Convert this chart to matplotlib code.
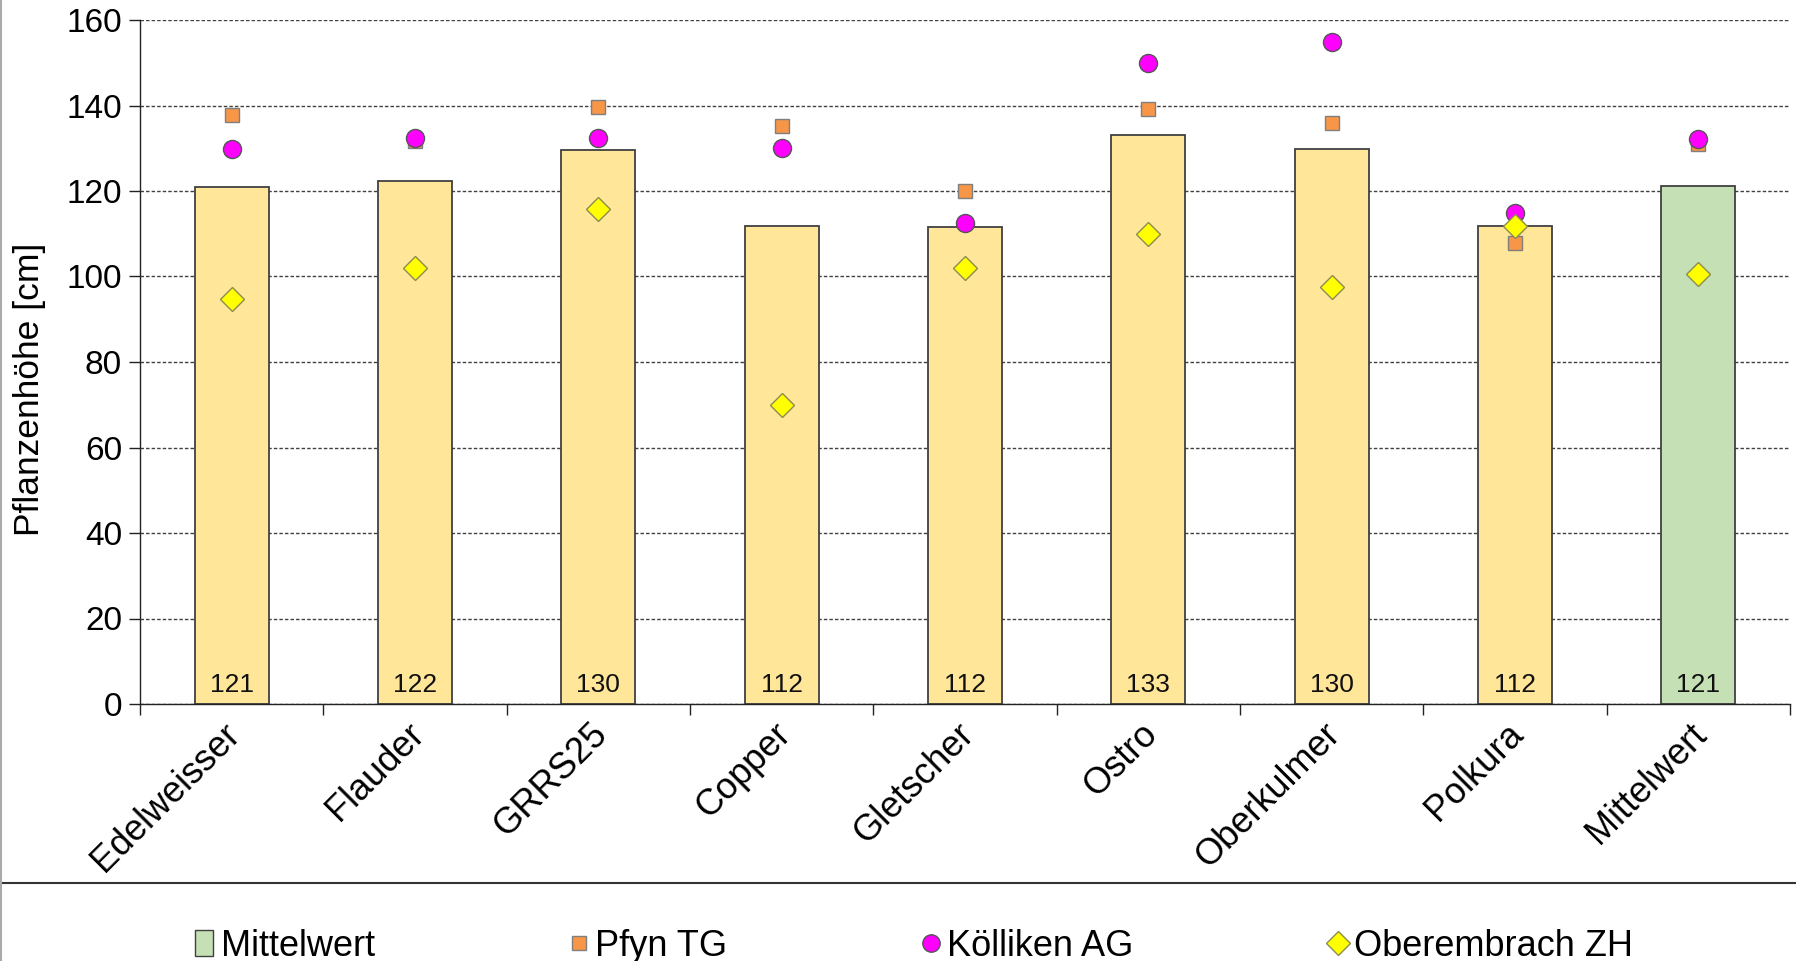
import matplotlib
matplotlib.use("Agg")
import matplotlib.pyplot as plt
from matplotlib.lines import Line2D
from matplotlib.patches import Patch
import matplotlib.transforms as mtransforms
import numpy as np

plt.rcParams['font.family'] = ['Liberation Sans', 'DejaVu Sans']

categories = ["Edelweisser", "Flauder", "GRRS25", "Copper", "Gletscher",
              "Ostro", "Oberkulmer", "Polkura", "Mittelwert"]
bar_values = [120.9, 122.3, 129.6, 111.8, 111.6, 133.1, 129.8, 111.8, 121.2]
pfyn = [137.8, 131.7, 139.7, 135.1, 120.1, 139.1, 135.8, 107.9, 130.9]
koelliken = [129.8, 132.3, 132.3, 130.0, 112.6, 149.9, 154.8, 114.8, 132.1]
oberembrach = [94.8, 101.9, 115.9, 69.9, 102.1, 109.9, 97.6, 111.9, 100.5]
yticks = [0, 20, 40, 60, 80, 100, 120, 140, 160]

W, H = 1796, 961
fig = plt.figure(figsize=(W / 100, H / 100), dpi=100)
ax = fig.add_axes([140 / W, 1 - 704 / H, (1790 - 140) / W, (704 - 20) / H])

x = np.arange(len(categories))
colors = ["#FFE699"] * (len(categories) - 1) + ["#C5E0B4"]
ax.bar(x, bar_values, width=0.405, color=colors, edgecolor="#404040",
       linewidth=1.3, zorder=2)
for xi, v in zip(x, bar_values):
    ax.text(xi, 2.8, f"{v:.0f}", ha="center", va="baseline", fontsize=19,
            color="#111111", zorder=4)

ax.plot(x, pfyn, linestyle="none", marker="s", markersize=10.5,
        markerfacecolor="#F79646", markeredgecolor="#7F7F7F",
        markeredgewidth=1.0, zorder=3)
ax.plot(x, koelliken, linestyle="none", marker="o", markersize=13,
        markerfacecolor="#FF00FF", markeredgecolor="#555555",
        markeredgewidth=1.0, zorder=3)
ax.plot(x, oberembrach, linestyle="none", marker="D", markersize=12,
        markerfacecolor="#FFFF00", markeredgecolor="#8C8C50",
        markeredgewidth=1.0, zorder=3)

ax.set_xlim(-0.5, len(categories) - 0.5)
ax.set_ylim(0, 160)
ax.set_yticks(yticks)
ax.set_yticklabels([str(t) for t in yticks], fontsize=24)
ax.yaxis.grid(True, linestyle=(0, (2.5, 1.5)), color="#404040", linewidth=1.0)
ax.set_axisbelow(True)

ax.set_xticks(x)
ax.set_xticklabels(categories, fontsize=26, rotation=45, ha="right",
                   va="top", rotation_mode="anchor")
ax.tick_params(axis="x", which="major", length=0, pad=9)
offset = mtransforms.ScaledTranslation(-9 / 100, 0, fig.dpi_scale_trans)
for lbl in ax.get_xticklabels():
    lbl.set_transform(lbl.get_transform() + offset)
ax.set_xticks(np.arange(-0.5, len(categories), 1.0), minor=True)
ax.tick_params(axis="x", which="minor", length=8, width=1.0, color="#222222",
               direction="out")
ax.tick_params(axis="y", length=8, width=1.0, direction="out", pad=5,
               color="#222222")

for s in ["top", "right"]:
    ax.spines[s].set_visible(False)
for s in ["left", "bottom"]:
    ax.spines[s].set_color("#222222")
    ax.spines[s].set_linewidth(1.0)

ax.set_ylabel("Pflanzenhöhe [cm]", fontsize=25.5)
ax.yaxis.set_label_coords(-0.057, 0.46)

# frame lines
fig.add_artist(Line2D([0, 1], [1 - 883 / H, 1 - 883 / H], transform=fig.transFigure,
                      color="#333333", linewidth=1.5))
fig.add_artist(Line2D([1.2 / W, 1.2 / W], [0, 1], transform=fig.transFigure,
                      color="#AAAAAA", linewidth=1.5))

handles = [
    Patch(facecolor="#C5E0B4", edgecolor="#404040", linewidth=1.0),
    Line2D([], [], linestyle="none", marker="s", markersize=10.5,
           markerfacecolor="#F79646", markeredgecolor="#7F7F7F"),
    Line2D([], [], linestyle="none", marker="o", markersize=12.5,
           markerfacecolor="#FF00FF", markeredgecolor="#555555"),
    Line2D([], [], linestyle="none", marker="D", markersize=12,
           markerfacecolor="#FFFF00", markeredgecolor="#8C8C50"),
]
labels = ["Mittelwert", "Pfyn TG", "Kölliken AG", "Oberembrach ZH"]
fig.legend(handles, labels, loc="center", bbox_to_anchor=(0.509, 1 - 946 / H),
           ncol=4, frameon=False, fontsize=26, handlelength=0.5,
           handleheight=0.7, handletextpad=0.2, columnspacing=5.4)

fig.savefig("out.png", dpi=100)
